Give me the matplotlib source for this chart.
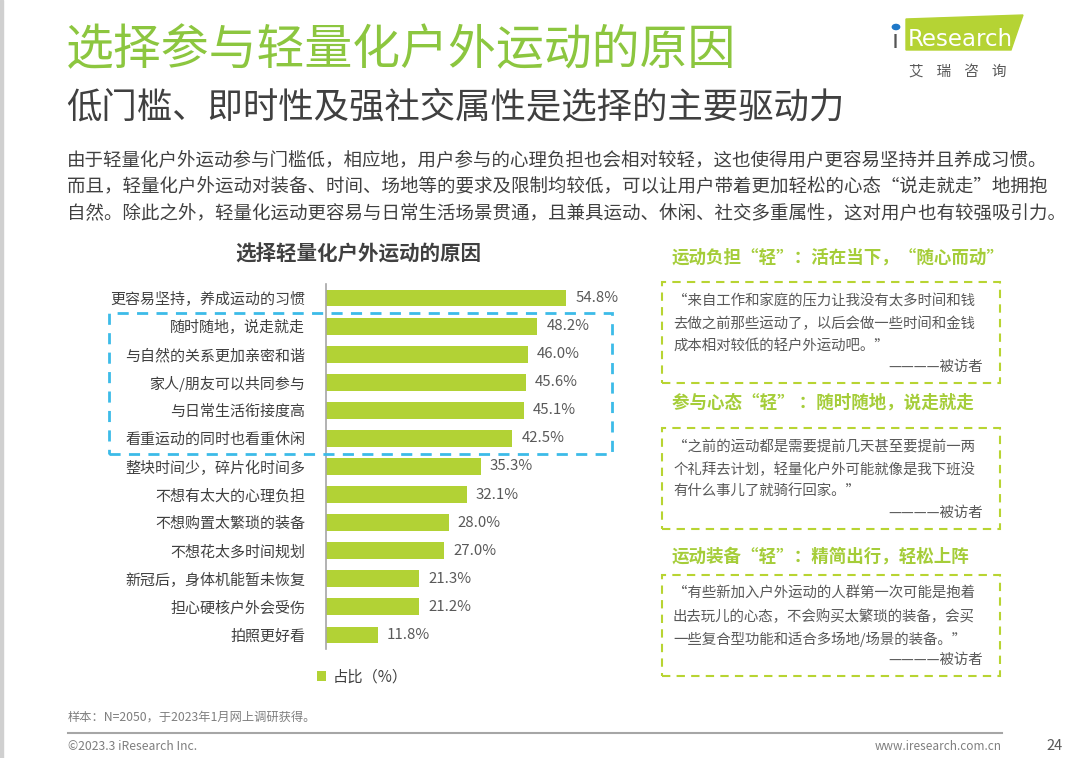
import matplotlib
matplotlib.use('Agg')
import matplotlib.pyplot as plt
from matplotlib.patches import Rectangle, Polygon

plt.rcParams['font.family'] = ['Noto Sans CJK SC', 'DejaVu Sans']

# data
reasons = ['更容易坚持，养成运动的习惯', '随时随地，说走就走', '与自然的关系更加亲密和谐',
           '家人/朋友可以共同参与', '与日常生活衔接度高', '看重运动的同时也看重休闲',
           '整块时间少，碎片化时间多', '不想有太大的心理负担', '不想购置太繁琐的装备',
           '不想花太多时间规划', '新冠后，身体机能暂未恢复', '担心硬核户外会受伤', '拍照更好看']
share = [54.8, 48.2, 46.0, 45.6, 45.1, 42.5, 35.3, 32.1, 28.0, 27.0, 21.3, 21.2, 11.8]
series_name = '占比（%）'

title = '选择参与轻量化户外运动的原因'
subtitle = '低门槛、即时性及强社交属性是选择的主要驱动力'
intro = ['由于轻量化户外运动参与门槛低，相应地，用户参与的心理负担也会相对较轻，这也使得用户更容易坚持并且养成习惯。',
         '而且，轻量化户外运动对装备、时间、场地等的要求及限制均较低，可以让用户带着更加轻松的心态“说走就走”地拥抱',
         '自然。除此之外，轻量化运动更容易与日常生活场景贯通，且兼具运动、休闲、社交多重属性，这对用户也有较强吸引力。']
chart_title = '选择轻量化户外运动的原因'
headings = ['运动负担“轻”：活在当下，“随心而动”', '参与心态“轻” ：随时随地，说走就走', '运动装备“轻”：精简出行，轻松上阵']
quotes = [['“来自工作和家庭的压力让我没有太多时间和钱', '去做之前那些运动了，以后会做一些时间和金钱', '成本相对较低的轻户外运动吧。”'],
          ['“之前的运动都是需要提前几天甚至要提前一两', '个礼拜去计划，轻量化户外可能就像是我下班没', '有什么事儿了就骑行回家。”'],
          ['“有些新加入户外运动的人群第一次可能是抱着', '出去玩儿的心态，不会购买太繁琐的装备，会买', '一些复合型功能和适合多场地/场景的装备。”']]
source = '————被访者'
note = '样本：N=2050，于2023年1月网上调研获得。'

W, H = 1080, 758
GREEN = '#8cc63f'
BAR = '#b2d235'
LIGHT = '#a5cd39'
DARK = '#404040'
GREY = '#595959'

fig = plt.figure(figsize=(W / 100, H / 100), dpi=100)


def fx(x):
    return x / W


def fy(y):
    return 1 - y / H


# page frame
fig.patches.append(Rectangle((0, 0), fx(3), 1, transform=fig.transFigure, color='#d0d0d0', zorder=0))

# titles and intro
fig.text(fx(66), fy(50), title, fontsize=34.5, color=GREEN, va='center')
fig.text(fx(66), fy(108), subtitle, fontsize=25.5, color=DARK, va='center')
for k, line in enumerate(intro):
    fig.text(fx(67), fy(161 + 26.5 * k), line, fontsize=13.3, color=DARK, va='center')

# logo
fig.patches.append(Polygon([(fx(906), fy(19)), (fx(1023), fy(15)), (fx(1011), fy(50)), (fx(906), fy(50))],
                           closed=True, transform=fig.transFigure, color='#b5d334', zorder=1))
fig.text(fx(892), fy(41), 'ı', fontsize=18, color='#555555', va='center', family='DejaVu Sans')
fig.patches.append(plt.Circle((fx(896), fy(27)), 0.0034, transform=fig.transFigure, color='#1f78c8', zorder=2))
fig.text(fx(908), fy(39), 'Research', fontsize=16.5, color='white', va='center', family='DejaVu Sans', zorder=3)
fig.text(fx(958), fy(72), '艾    瑞    咨    询', fontsize=10.5, color='#595959', va='center', ha='center')

# bar chart
fig.text(fx(358), fy(254), chart_title, fontsize=14.8, fontweight='bold', color=DARK, va='center', ha='center')
ax = fig.add_axes([fx(326), fy(649), (589 - 326) / W, 365 / H])
pos = list(range(len(reasons)))
ax.barh(pos, share, height=0.6, color=BAR, label=series_name)
ax.set_xlim(0, 60)
ax.set_ylim(len(reasons) - 0.5, -0.5)
ax.set_yticks(pos)
ax.set_yticklabels(reasons, fontsize=10.8, color=DARK)
ax.tick_params(axis='y', length=0, pad=15)
ax.set_xticks([])
for s in ['top', 'right', 'bottom']:
    ax.spines[s].set_visible(False)
ax.spines['left'].set_color('#a6a6a6')
ax.spines['left'].set_linewidth(1.2)
ax.patch.set_alpha(0)
for p, v in zip(pos, share):
    ax.annotate(f'{v:.1f}%', (v, p), xytext=(6.5, 0), textcoords='offset points',
                va='center', ha='left', fontsize=10.8, color=GREY)

fig.legend(loc='center left', bbox_to_anchor=(fx(317), fy(677)), frameon=False,
           handlelength=0.6, handleheight=0.6, handletextpad=0.4, borderpad=0, borderaxespad=0,
           fontsize=11, labelcolor=DARK)

fig.patches.append(Rectangle((fx(109), fy(454)), (612 - 109) / W, (454 - 313) / H, transform=fig.transFigure,
                             fill=False, edgecolor='#3cbbe8', lw=2, linestyle=(0, (4, 3)), zorder=5))

# quote panels
head_y = [258, 403, 557]
box_top = [282, 428, 575]
for k in range(3):
    fig.text(fx(672), fy(head_y[k]), headings[k], fontsize=12.6, fontweight='bold', color=LIGHT, va='center')
    fig.patches.append(Rectangle((fx(662), fy(box_top[k] + 101)), (1000 - 662) / W, 101 / H,
                                 transform=fig.transFigure, fill=False, edgecolor='#b8d432', lw=1.5,
                                 linestyle=(0, (4, 3)), zorder=5))
    for j, line in enumerate(quotes[k]):
        fig.text(fx(673), fy(box_top[k] + 19 + 22.5 * j), line, fontsize=10.4, color=GREY, va='center')
    fig.text(fx(983), fy(box_top[k] + 85), source, fontsize=10.4, color=GREY, va='center', ha='right')

# footer
fig.text(fx(68), fy(717), note, fontsize=8.8, color='#7f7f7f', va='center')
fig.add_artist(plt.Line2D([fx(68), fx(1002)], [fy(733), fy(733)], color='#a6a6a6', lw=1.5))
fig.text(fx(68), fy(746), '©2023.3 iResearch Inc.', fontsize=8.8, color='#7f7f7f', va='center')
fig.text(fx(1002), fy(746), 'www.iresearch.com.cn', fontsize=8.5, color='#7f7f7f', va='center', ha='right')
fig.text(fx(1063), fy(746), '24', fontsize=10.5, color='#595959', va='center', ha='right')

fig.savefig('out.png', dpi=100)
